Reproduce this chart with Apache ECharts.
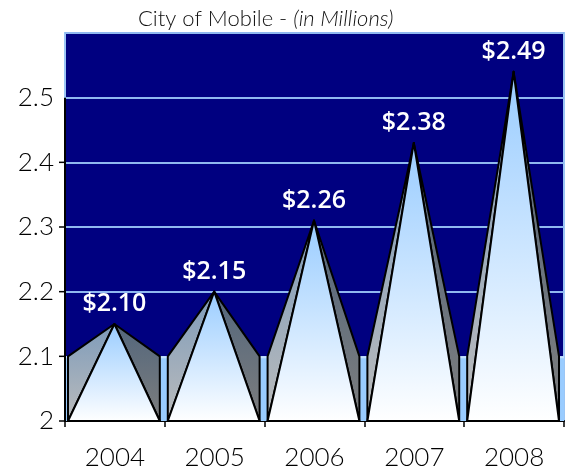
<!DOCTYPE html>
<html><head><meta charset="utf-8">
<script src="https://cdn.jsdelivr.net/npm/echarts@6/dist/echarts.min.js"></script>
<style>html,body{margin:0;padding:0;background:#fff}#c{width:565px;height:474px}</style>
</head><body><div id="c"></div>
<script>
// ---- data ----
const categories = ['2004', '2005', '2006', '2007', '2008'];
const values = [2.10, 2.15, 2.26, 2.38, 2.49];
const valueLabels = ['$2.10', '$2.15', '$2.26', '$2.38', '$2.49'];
const yTickLabels = ['2', '2.1', '2.2', '2.3', '2.4', '2.5'];
const yMin = 2, yMax = 2.6, yStep = 0.1;
const DEPTH = 0.1; // 3D depth of the pyramids, in axis units

const chart = echarts.init(document.getElementById('c'), null, {renderer: 'canvas'});
const axisFont = 'Lato, "Noto Sans", sans-serif';

const option = {
  animation: false,
  backgroundColor: '#ffffff',
  title: {
    text: '{n|City of Mobile - }{i|(in Millions)}',
    left: 133, top: 3,
    textStyle: {
      fontWeight: 'normal',
      rich: {
        n: {fontFamily: axisFont, fontSize: 22, fontWeight: 300, color: '#111'},
        i: {fontFamily: axisFont, fontSize: 22, fontWeight: 300, fontStyle: 'italic', color: '#111'}
      }
    }
  },
  grid: {left: 65, right: 1, top: 33, bottom: 53, show: true,
    backgroundColor: '#000080', borderColor: '#9cc6f5', borderWidth: 2},
  xAxis: {
    type: 'category', data: categories,
    axisLine: {show: true, lineStyle: {color: '#000', width: 2}},
    axisTick: {show: true, length: 6, lineStyle: {color: '#000', width: 1.5}},
    axisLabel: {fontFamily: axisFont, fontSize: 26, fontWeight: 300, color: '#000', margin: 24}
  },
  yAxis: {
    type: 'value', min: yMin, max: yMax, interval: yStep,
    axisLine: {show: false},
    axisTick: {show: false},
    splitLine: {show: true, lineStyle: {color: '#8fb8f0', width: 2}},
    axisLabel: {
      fontFamily: axisFont, fontSize: 26, fontWeight: 300, color: '#000', margin: 11,
      formatter: function (v) {
        const i = Math.round((v - yMin) / yStep);
        return yTickLabels[i] !== undefined ? yTickLabels[i] : '';
      }
    }
  },
  series: [
    {
      type: 'custom', name: 'floor', silent: true, z: 1,
      data: [[0, yMin]],
      renderItem: function (params, api) {
        const cs = params.coordSys;
        const y0 = api.coord([0, yMin])[1];
        const y1 = api.coord([0, yMin + DEPTH])[1];
        return {
          type: 'group', children: [
            {type: 'rect', shape: {x: cs.x, y: y1, width: cs.width, height: y0 - y1},
              style: {fill: '#99ccff'}},
            {type: 'line', shape: {x1: cs.x, y1: y1 + 1, x2: cs.x + cs.width, y2: y1 + 1},
              style: {stroke: '#c4e2ff', lineWidth: 2}}
          ]
        };
      }
    },
    {
      type: 'custom', name: 'pyramids', z: 2,
      data: values.map((v, i) => [i, v]),
      renderItem: function (params, api) {
        const idx = api.value(0), v = api.value(1);
        const band = api.size([1, 0])[0];
        const half = band * 0.46;
        const base = api.coord([idx, yMin]);
        const back = api.coord([idx, yMin + DEPTH]);
        const apex = api.coord([idx, v + DEPTH / 2]);
        const cx = base[0] - 1;
        const x1 = cx - half, x2 = cx + half;
        const yb = base[1], yk = back[1];
        const ax = apex[0] - 0.5, ay = apex[1];
        const stroke = {stroke: '#000', lineWidth: 2, lineJoin: 'round'};
        const grad = (c0, c1) => new echarts.graphic.LinearGradient(0, 0, 0, 1,
          [{offset: 0, color: c0}, {offset: 1, color: c1}]);
        return {
          type: 'group',
          children: [
            {type: 'polygon', shape: {points: [[x1, yb], [x1, yk], [ax, ay]]},
              style: Object.assign({fill: grad('#7d9bba', '#bcbcbc')}, stroke)},
            {type: 'polygon', shape: {points: [[x2, yb], [x2, yk], [ax, ay]]},
              style: Object.assign({fill: grad('#52667c', '#7e7e7e')}, stroke)},
            {type: 'polygon', shape: {points: [[x1, yb], [x2, yb], [ax, ay]]},
              style: Object.assign({fill: grad('#99ccff', '#ffffff')}, stroke)},
            {type: 'text', x: ax, y: ay - 20,
              style: {text: valueLabels[idx], fill: '#ffffff', fontSize: 25,
                fontWeight: 600, fontFamily: '"Open Sans", "Noto Sans", sans-serif',
                align: 'center', verticalAlign: 'middle'}}
          ]
        };
      }
    }
  ]
};
chart.setOption(option);

// y axis line and ticks run from the minimum up to the last labelled tick
const yTop = yMin + (yTickLabels.length - 1) * yStep;
const pTop = chart.convertToPixel({yAxisIndex: 0}, yTop);
const pBot = chart.convertToPixel({yAxisIndex: 0}, yMin);
const axX = chart.convertToPixel({xAxisIndex: 0}, categories[0]) -
  (chart.convertToPixel({xAxisIndex: 0}, categories[1]) - chart.convertToPixel({xAxisIndex: 0}, categories[0])) / 2;
const gfx = [{type: 'line', z: 100,
  shape: {x1: axX, y1: pTop, x2: axX, y2: pBot},
  style: {stroke: '#000', lineWidth: 2}}];
for (let i = 0; i < yTickLabels.length - 1; i++) {
  const py = chart.convertToPixel({yAxisIndex: 0}, yMin + i * yStep);
  gfx.push({type: 'line', z: 100, shape: {x1: axX - 6, y1: py, x2: axX, y2: py},
    style: {stroke: '#000', lineWidth: 1.5}});
}
chart.setOption({graphic: gfx});
</script></body></html>
